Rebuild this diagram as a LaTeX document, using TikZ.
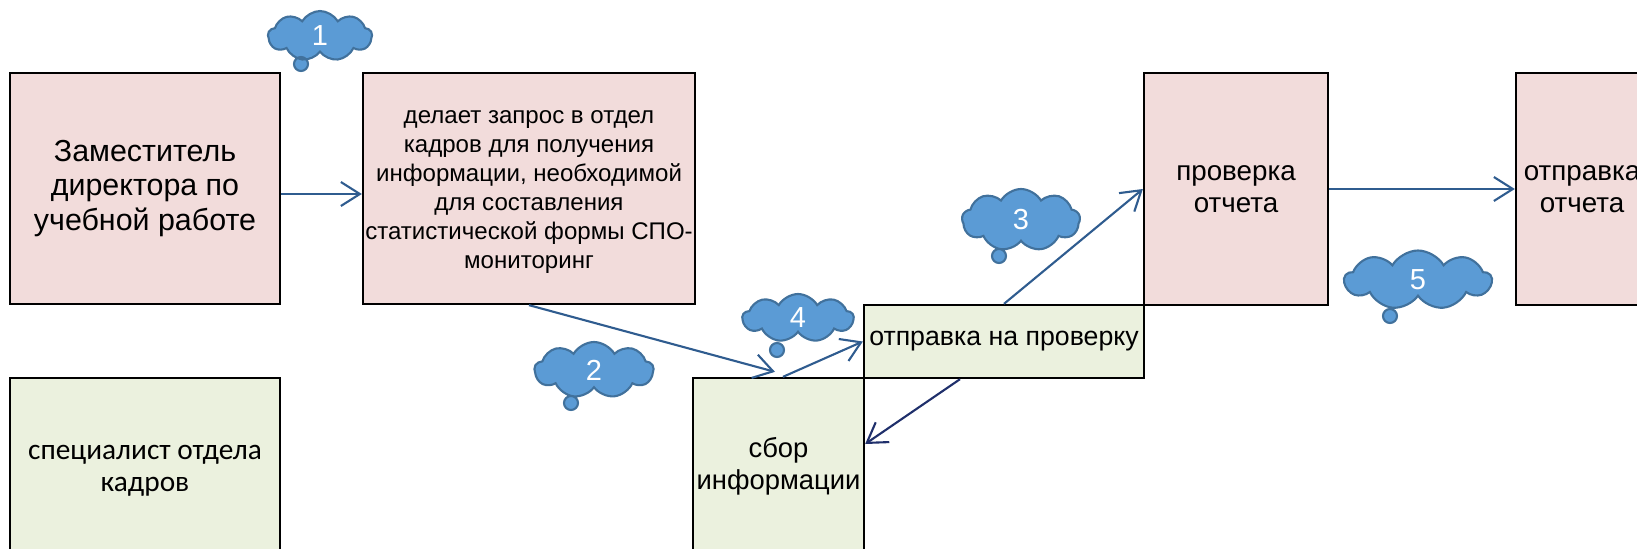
\documentclass[tikz,border=0pt]{standalone}
\usepackage{fontspec}
\setmainfont{Liberation Sans}
\newfontfamily\calib{Carlito}
\usetikzlibrary{arrows.meta,shapes.symbols,shapes.callouts,calc}
\definecolor{pinkf}{HTML}{F2DCDB}
\definecolor{greenf}{HTML}{EBF1DE}
\definecolor{cloudf}{HTML}{5B9BD5}
\definecolor{cloudd}{HTML}{41719C}
\definecolor{arr}{HTML}{2F5C8F}
\definecolor{arrd}{HTML}{1F2F6B}
\begin{document}
\begin{tikzpicture}[x=0.02cm,y=-0.02cm,
 box/.style={draw=black,line width=1.35pt,inner sep=0pt,align=center},
 pinkbox/.style={box,fill=pinkf},
 greenbox/.style={box,fill=greenf},
 conn/.style={draw=arr,line width=1.2pt,-{Straight Barb[length=3.8mm,width=4.8mm,line width=1.2pt]}},
 bubble/.style={cloud callout, cloud puffs=9, cloud puff arc=120, cloud ignores aspect, fill=cloudf, draw=cloudd, line width=1.2pt, text=white, font=\fontsize{16.5}{18}\selectfont, inner sep=0pt, callout pointer segments=1, callout pointer start size=0.4cm and 0.3cm, callout pointer end size=0.36cm and 0.28cm}]
\useasboundingbox (0,0) rectangle (1637,548);
\clip (0,0) rectangle (1637,548);

\node[pinkbox, minimum width=5.4cm, minimum height=4.62cm, font=\fontsize{17.3}{19.8}\selectfont] (A) at (145,188.5) {Заместитель\\директора по\\учебной работе};
\node[pinkbox, minimum width=6.64cm, minimum height=4.62cm] (B) at (529,188.5) {};
\node[font=\fontsize{13.7}{16.4}\selectfont, align=center, inner sep=0pt] (Bt) at (529,192) {делает запрос в отдел\\кадров для получения\\информации, необходимой\\для составления\\статистической формы СПО-\\мониторинг};
\node[greenbox, minimum width=5.4cm, minimum height=3.72cm, font=\calib\fontsize{16.7}{18.5}\selectfont] (C) at (145,471) {специалист отдела\\кадров};
\node[greenbox, minimum width=3.42cm, minimum height=3.52cm, font=\fontsize{15.6}{18.1}\selectfont] (D) at (778.5,466) {сбор\\информации};
\node[greenbox, minimum width=5.6cm, minimum height=1.46cm, font=\fontsize{15.2}{18.1}\selectfont] (E) at (1004,341.5) {отправка на проверку};
\node[pinkbox, minimum width=3.68cm, minimum height=4.64cm, font=\fontsize{15.8}{18.1}\selectfont] (F) at (1236,189) {проверка\\отчета};
\node[pinkbox, minimum width=2.64cm, minimum height=4.64cm, font=\fontsize{15.8}{18.1}\selectfont] (G) at (1582,189) {отправка\\отчета};

\node[bubble, minimum width=2.08cm, minimum height=1.0cm, callout absolute pointer={(301,64)}] (c1) at (320,36) {1};
\node[bubble, minimum width=2.38cm, minimum height=1.12cm, callout absolute pointer={(571,403)}] (c2) at (594,370) {2};
\node[bubble, minimum width=2.36cm, minimum height=1.24cm, callout absolute pointer={(999,256)}] (c3) at (1021,220) {3};
\node[bubble, minimum width=2.22cm, minimum height=0.96cm, callout absolute pointer={(777,350)}] (c4) at (798,318) {4};
\node[bubble, minimum width=2.94cm, minimum height=1.18cm, callout absolute pointer={(1390,316)}] (c5) at (1418,280) {5};

\draw[conn] ([yshift=-0.11cm]A.east) -- ([yshift=-0.11cm]B.west);
\draw[conn] (B.south) -- ([shift={(-0.07cm,0.1cm)}]D.north);
\draw[conn] ([xshift=0.09cm]D.north) -- (E.west);
\draw[conn,draw=arrd] ([xshift=-0.88cm]E.south) -- ([yshift=0.44cm]D.east);
\draw[conn] (E.north) -- (F.west);
\draw[conn] (F.east) -- (G.west);
\end{tikzpicture}
\end{document}
